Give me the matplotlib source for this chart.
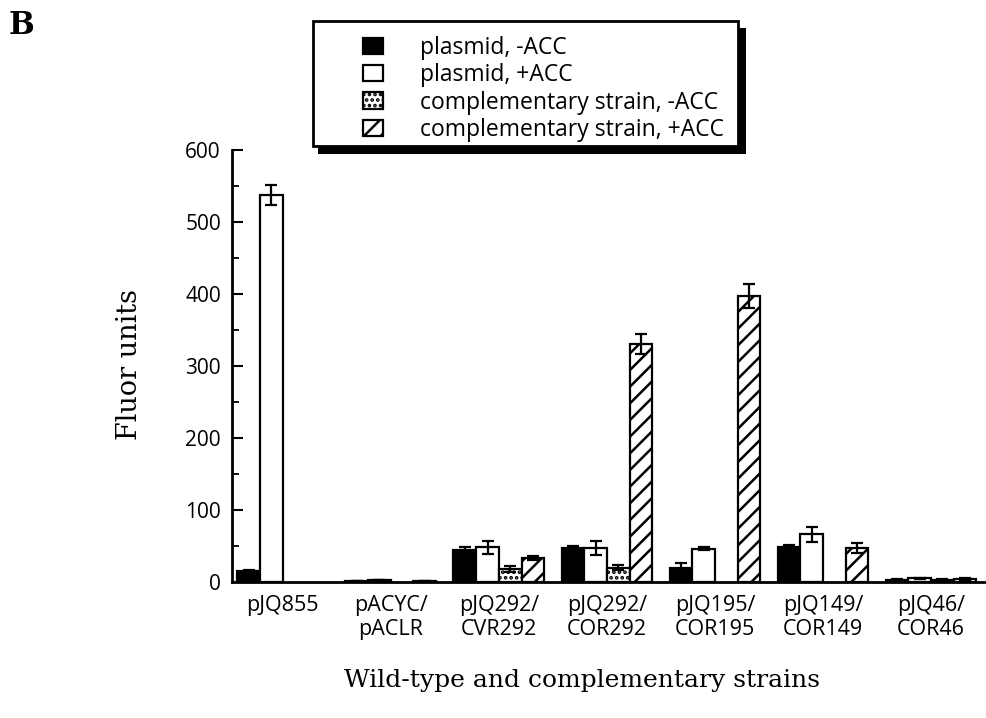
import matplotlib.pyplot as plt
import numpy as np
from matplotlib.patches import Rectangle, Patch

# data
groups = ["pJQ855", "pACYC/\npACLR", "pJQ292/\nCVR292", "pJQ292/\nCOR292",
          "pJQ195/\nCOR195", "pJQ149/\nCOR149", "pJQ46/\nCOR46"]
series = ["plasmid, -ACC", "plasmid, +ACC",
          "complementary strain, -ACC", "complementary strain, +ACC"]
plasmid_minus = [15, 1, 45, 47, 20, 49, 3]
plasmid_minus_err = [2, 0, 3, 3, 7, 3, 1]
plasmid_plus = [537, 3, 48, 47, 46, 66, 5]
plasmid_plus_err = [14, 0, 9, 10, 2, 10, 1]
comp_minus = [np.nan, np.nan, 18, 20, np.nan, np.nan, 3]
comp_minus_err = [0, 0, 4, 3, 0, 0, 1]
comp_plus = [np.nan, 2, 33, 331, 397, 47, 4]
comp_plus_err = [0, 0, 3, 14, 17, 7, 1]

values = [plasmid_minus, plasmid_plus, comp_minus, comp_plus]
errors = [plasmid_minus_err, plasmid_plus_err, comp_minus_err, comp_plus_err]
faces = ["black", "white", "white", "white"]
hatches = [None, None, "...", "//"]

plt.rcParams['hatch.linewidth'] = 1.8
sans = ["Open Sans", "DejaVu Sans"]
serif = ["DejaVu Serif"]

W, H = 987, 718
fig = plt.figure(figsize=(W / 100, H / 100), dpi=100)
ax = fig.add_axes([232 / W, 1 - 582 / H, (985 - 232) / W, (582 - 150) / H])

x = np.arange(len(groups))
bw = 0.21
offs = (np.arange(4) - 1.5) * bw
for i in range(4):
    v = np.array(values[i], dtype=float)
    e = np.array(errors[i], dtype=float)
    m = ~np.isnan(v)
    ax.bar(x[m] + offs[i], v[m], bw, yerr=e[m], facecolor=faces[i],
           edgecolor="black", linewidth=1.6, hatch=hatches[i],
           error_kw=dict(ecolor="black", elinewidth=1.6, capsize=4, capthick=1.6))

ax.set_xlim(-0.47, 6.5)
ax.set_ylim(0, 600)
for s in ["top", "right"]:
    ax.spines[s].set_visible(False)
for s in ["left", "bottom"]:
    ax.spines[s].set_linewidth(2)
ax.set_yticks(np.arange(0, 601, 100))
ax.set_yticks(np.arange(50, 600, 100), minor=True)
ax.tick_params(axis="y", which="major", direction="in", length=8, width=1.5, pad=8)
ax.tick_params(axis="y", which="minor", direction="in", length=5, width=1.3)
ax.set_xticks(x)
ax.set_xticklabels(groups, linespacing=1.2)
ax.tick_params(axis="x", length=0, pad=9)
for lab in ax.get_yticklabels():
    lab.set_fontfamily(sans)
    lab.set_fontsize(15)
for lab in ax.get_xticklabels():
    lab.set_fontfamily(sans)
    lab.set_fontsize(15.5)

fig.text(130 / W, 1 - 365 / H, "Fluor units", rotation=90, ha="center", va="center",
         family=serif, fontsize=19.5)
fig.text(582 / W, 1 - 680 / H, "Wild-type and complementary strains", ha="center",
         va="center", family=serif, fontsize=18)
fig.text(9 / W, 1 - 25 / H, "B", ha="left", va="center", family=serif,
         fontsize=22, fontweight="bold")

# legend frame with heavy shadow
tr = fig.transFigure
fig.patches.append(Rectangle((318 / W, 1 - 154 / H), (746 - 318) / W, (154 - 28) / H,
                             transform=tr, facecolor="black", edgecolor="none", zorder=1))
fig.patches.append(Rectangle((313 / W, 1 - 146 / H), (738 - 313) / W, (146 - 21) / H,
                             transform=tr, facecolor="white", edgecolor="black",
                             linewidth=2, zorder=2))
handles = [Patch(facecolor=faces[i], edgecolor="black", hatch=hatches[i], linewidth=1.6)
           for i in range(4)]
leg = fig.legend(handles, series, loc="upper left",
                 bbox_to_anchor=(342 / W, 1 - 15 / H), frameon=False,
                 prop=dict(family=sans, size=16.5), handlelength=0.9, handleheight=0.7,
                 handletextpad=1.6, labelspacing=0.15)
leg.set_zorder(3)

fig.savefig("out.png", dpi=100)
